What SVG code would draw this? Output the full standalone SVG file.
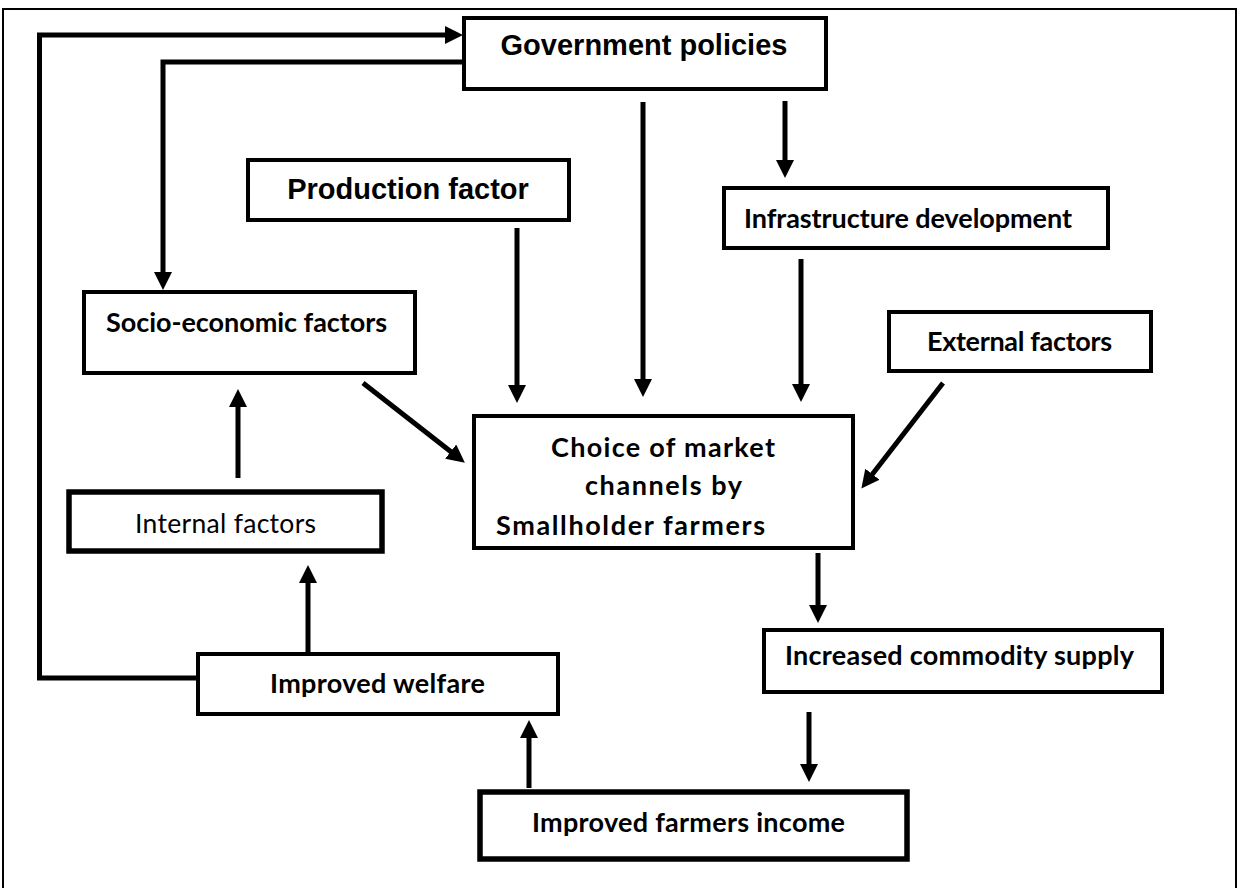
<svg xmlns="http://www.w3.org/2000/svg" width="1237" height="888" viewBox="0 0 1237 888">
  <style>
    .frame { fill: none; stroke: #000; stroke-width: 2; }
    .box { fill: #fff; stroke: #000; stroke-width: 4; }
    .box-thick { fill: #fff; stroke: #000; stroke-width: 5.5; }
    .link { fill: none; stroke: #000; stroke-width: 5; }
    .arial { font-family: "Liberation Sans", Arial, sans-serif; font-weight: bold; font-size: 29px; fill: #000; }
    .cal { font-family: Lato, "Open Sans", sans-serif; font-weight: bold; font-size: 27px; fill: #000; }
    .cal-reg { font-family: Lato, "Open Sans", sans-serif; font-weight: normal; font-size: 26.5px; fill: #000; }
  </style>
  <defs>
    <marker id="head" viewBox="0 0 18 18" markerUnits="userSpaceOnUse" markerWidth="18" markerHeight="18" refX="8" refY="9" orient="auto">
      <path d="M0,0 L18,9 L0,18 Z" fill="#000"/>
    </marker>
  </defs>

  <rect class="frame" x="3" y="9" width="1233" height="886"/>

  <!-- connectors -->
  <g id="connectors">
    <!-- feedback loop: welfare back to government policies -->
    <path class="link" d="M197,678 H39.5 V35 H453" marker-end="url(#head)"/>
    <!-- government policies down to socio-economic factors -->
    <path class="link" d="M464,62 H163 V280" marker-end="url(#head)"/>
    <!-- government policies to infrastructure development -->
    <path class="link" d="M785,101 V168" marker-end="url(#head)"/>
    <!-- government policies to market channel choice -->
    <path class="link" d="M643,102 V387" marker-end="url(#head)"/>
    <!-- production factor to market channel choice -->
    <path class="link" d="M517,228 V393" marker-end="url(#head)"/>
    <!-- infrastructure development to market channel choice -->
    <path class="link" d="M801,259 V392" marker-end="url(#head)"/>
    <!-- external factors to market channel choice -->
    <path class="link" d="M943,383 L867.5,480.5" marker-end="url(#head)"/>
    <!-- socio-economic factors to market channel choice -->
    <path class="link" d="M363,383 L457,456.5" marker-end="url(#head)"/>
    <!-- internal factors to socio-economic factors -->
    <path class="link" d="M238,478 V399" marker-end="url(#head)"/>
    <!-- improved welfare to internal factors -->
    <path class="link" d="M308,653 V575" marker-end="url(#head)"/>
    <!-- market channel choice to increased commodity supply -->
    <path class="link" d="M818,553 V613" marker-end="url(#head)"/>
    <!-- increased commodity supply to improved farmers income -->
    <path class="link" d="M809,712 V772" marker-end="url(#head)"/>
    <!-- improved farmers income to improved welfare -->
    <path class="link" d="M529,788 V730" marker-end="url(#head)"/>
  </g>

  <g id="government-policies">
    <rect class="box" x="464" y="18" width="362" height="71"/>
    <text class="arial" x="644" y="55" text-anchor="middle">Government policies</text>
  </g>

  <g id="production-factor">
    <rect class="box" x="248" y="160" width="321" height="60"/>
    <text class="arial" x="408" y="199" text-anchor="middle">Production factor</text>
  </g>

  <g id="infrastructure-development">
    <rect class="box" x="724" y="188" width="384" height="60"/>
    <text class="cal" x="744" y="228" textLength="328">Infrastructure development</text>
  </g>

  <g id="socio-economic-factors">
    <rect class="box" x="84" y="292" width="331" height="81"/>
    <text class="cal" x="106" y="332" textLength="281">Socio-economic factors</text>
  </g>

  <g id="external-factors">
    <rect class="box" x="889" y="312" width="262" height="59"/>
    <text class="cal" x="927" y="351" textLength="185">External factors</text>
  </g>

  <g id="market-channel-choice">
    <rect class="box" x="474" y="416" width="379" height="132"/>
    <text class="cal" x="551" y="457" textLength="224">Choice of market</text>
    <text class="cal" x="585" y="495" textLength="157">channels by</text>
    <text class="cal" x="496" y="535" textLength="269">Smallholder farmers</text>
  </g>

  <g id="internal-factors">
    <rect class="box-thick" x="69" y="492" width="313" height="59"/>
    <text class="cal-reg" x="135" y="533" textLength="181">Internal factors</text>
  </g>

  <g id="increased-commodity-supply">
    <rect class="box" x="764" y="630" width="398" height="62"/>
    <text class="cal" x="785" y="665" textLength="349">Increased commodity supply</text>
  </g>

  <g id="improved-welfare">
    <rect class="box" x="198" y="654" width="360" height="60"/>
    <text class="cal" x="270" y="693" textLength="215">Improved welfare</text>
  </g>

  <g id="improved-farmers-income">
    <rect class="box-thick" x="480" y="792" width="427" height="67"/>
    <text class="cal" x="532" y="832" textLength="313">Improved farmers income</text>
  </g>
</svg>
